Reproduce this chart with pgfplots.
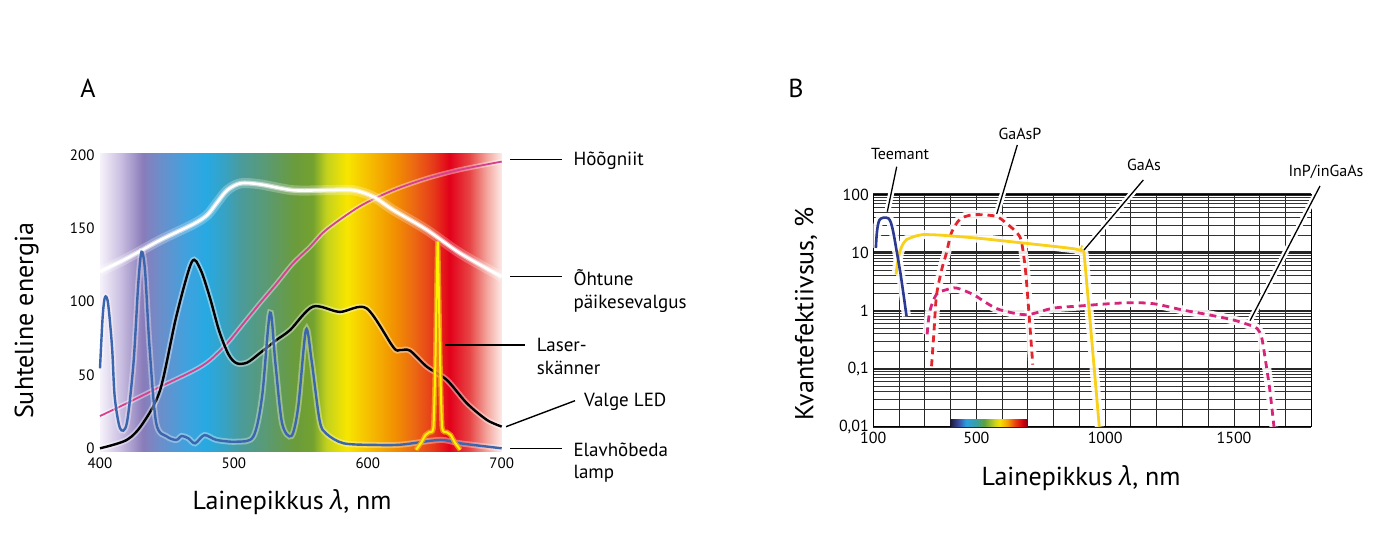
\documentclass[border=0pt]{standalone}
\usepackage{fontspec}
\setmainfont{PT Sans}
\newfontfamily\grfont{Open Sans}
\usepackage{pgfplots}
\usepackage{pgfplotstable}
\pgfplotsset{compat=1.18}

% spectrum colours, panel A background
\definecolor{sa00}{HTML}{F6F2FA}
\definecolor{sa01}{HTML}{CBC0E2}
\definecolor{sa02}{HTML}{8A7CBA}
\definecolor{sa03}{HTML}{6C8ECA}
\definecolor{sa04}{HTML}{3FA2DE}
\definecolor{sa05}{HTML}{27A9E1}
\definecolor{sa06}{HTML}{3AA1BE}
\definecolor{sa07}{HTML}{4A9B9B}
\definecolor{sa08}{HTML}{5B9A72}
\definecolor{sa09}{HTML}{6A9B3C}
\definecolor{sa10}{HTML}{74A22F}
\definecolor{sa11}{HTML}{C4D21E}
\definecolor{sa12}{HTML}{F7E600}
\definecolor{sa13}{HTML}{F6C200}
\definecolor{sa14}{HTML}{F29200}
\definecolor{sa15}{HTML}{EC6A12}
\definecolor{sa16}{HTML}{E63A1A}
\definecolor{sa17}{HTML}{E2001A}
\definecolor{sa18}{HTML}{E84545}
\definecolor{sa19}{HTML}{F4A8A0}
\definecolor{sa20}{HTML}{FDEAE6}
\pgfdeclarehorizontalshading{specA}{100bp}{
  color(0bp)=(sa00); color(25bp)=(sa00); color(27.5bp)=(sa01);
  color(30.3bp)=(sa02); color(32.5bp)=(sa03); color(35.8bp)=(sa04);
  color(38.3bp)=(sa05); color(40.8bp)=(sa06); color(42.5bp)=(sa07);
  color(45.8bp)=(sa08); color(49.2bp)=(sa09); color(51.5bp)=(sa10);
  color(53.2bp)=(sa11); color(55.7bp)=(sa12); color(58.2bp)=(sa13);
  color(61.5bp)=(sa14); color(64bp)=(sa15); color(66.5bp)=(sa16);
  color(68.5bp)=(sa17); color(71bp)=(sa18); color(73.2bp)=(sa19);
  color(75bp)=(sa20); color(100bp)=(sa20)}

% small spectrum bar, panel B
\definecolor{sb0}{HTML}{1B1B3A}
\definecolor{sb1}{HTML}{3A4AA0}
\definecolor{sb2}{HTML}{2AA0E0}
\definecolor{sb3}{HTML}{3A9FA0}
\definecolor{sb4}{HTML}{5AA040}
\definecolor{sb5}{HTML}{C8D020}
\definecolor{sb6}{HTML}{F8E000}
\definecolor{sb7}{HTML}{F5A000}
\definecolor{sb8}{HTML}{E84010}
\definecolor{sb9}{HTML}{D00010}
\definecolor{sb10}{HTML}{800010}
\pgfdeclarehorizontalshading{specB}{100bp}{
  color(0bp)=(sb0); color(25bp)=(sb0); color(30bp)=(sb1);
  color(35bp)=(sb2); color(41.7bp)=(sb3); color(46.7bp)=(sb4);
  color(53.3bp)=(sb5); color(56.7bp)=(sb6); color(61.7bp)=(sb7);
  color(66.7bp)=(sb8); color(71.7bp)=(sb9); color(75bp)=(sb10);
  color(100bp)=(sb10)}

\definecolor{magA}{HTML}{D6408F}
\definecolor{blueA}{HTML}{3B66AD}
\definecolor{laserY}{HTML}{FFF200}
\definecolor{laserO}{HTML}{F7A21B}
\definecolor{navyB}{HTML}{2B3990}
\definecolor{redB}{HTML}{E3262D}
\definecolor{magB}{HTML}{D6247A}
\definecolor{yelB}{HTML}{F9D11A}

% ---- panel A data ----
\pgfplotstableread{
x y
400 22
420 30.7
445 42
470 53
482 60
495 71.6
507 85
519.5 99
532 112.5
544 126
557 137.5
569 149
594 165
619 176
644 184
669 190
700 195.5
}\hoogniit

\pgfplotstableread{
x y
400 120.5
420 129.5
445 142
470 153
480 159
487 167
495 176
505 180.7
519.5 180
544 176
569 176
589 176
604 171.6
619 162.5
644 149
669 133
700 117
}\ohtune

\pgfplotstableread{
x y
400 0
420 5.7
432 17
445 40
457 90
468.5 127
475 122
482 103
489 80
496 64
502 58
510 58.5
519.5 65
532 74
542 80.7
559 96.6
579 93
599 95.5
619 69
624 67
631.5 66.6
644 55.7
659 46.6
674 30.7
689 19.3
700 14.8
}\valgeled

\pgfplotstableread{
x y
400 54.5
402 89.8
403.7 103
406 99
409 69
411 35
415 13.6
420 17
425 58
428.6 112.5
431 134
433.6 121.6
437 69
442 17
450 8
457 5.7
461 8.4
466 6.8
471 3.4
478 9
487 5.7
502 4.5
514.5 8
521 35
527 92.5
531 58
536 17
543 8.4
548 28
553.8 80.7
558 60
564 19
569 10
582 3.4
606 2.3
625 2.5
654 5.7
669 3.4
700 0
}\elavhobeda

\pgfplotstableread{
x y
636 -1
640 4
643 9
646 11
649 14
650.5 60
652.2 141
654 60
655.5 14
659 11
662 9
665 4
669 -1
}\laser

% ---- panel B data ----
\pgfplotstableread{
x y
110 12
113 20
118 30
125 37
140 40
158 39
168 33
178 22
190 11
205 4.5
218 1.8
229 0.8
}\teemant

\pgfplotstableread{
x y
188 4.2
195 7
203 10.4
215 14
229 16.7
260 19
294 20.4
358 20
500 17.8
616 15.7
800 12.8
880 11.6
905 10.8
918 9.5
977 0.01
}\gaas

\pgfplotstableread{
x y
326 0.11
335 0.4
345 1.77
365 5
384 9.9
403 21.8
435 37
475 44
513 45
577 42
616 32
668 19
685 8
694 3.4
706 0.7
719 0.117
}\gaasp

\pgfplotstableread{
x y
309 0.39
319 0.96
345 1.9
385 2.3
423 2.45
487 1.9
540 1.35
590 1.04
694 0.85
797 1.1
900 1.2
1000 1.3
1100 1.37
1190 1.31
1303 1.02
1400 0.85
1497 0.69
1562 0.56
1590 0.49
1607 0.35
1620 0.16
1639 0.043
1655 0.01
}\inp

\begin{document}
\begin{tikzpicture}[x=1pt,y=1pt]
\path[use as bounding box] (0,0) rectangle (1400,558);

% ================= panel A =================
\begin{axis}[
  at={(100pt,109.7pt)}, anchor=south west, scale only axis,
  width=401.7pt, height=293.3pt,
  xmin=400, xmax=700, ymin=0, ymax=200,
  clip=false,
  axis line style={draw=none},
  major tick length=0pt,
  xtick={400,500,600,700}, ytick={0,50,100,150,200},
  /pgf/number format/assume math mode=true,
  ticklabel style={font=\fontsize{15}{15}\selectfont},
  xticklabel style={yshift=-6pt},
  yticklabel style={xshift=-2pt},
]
\shade[shading=specA] (axis cs:400,-2) rectangle (axis cs:700,201);
% Hoogniit
\addplot[white, opacity=0.4, line width=5pt, smooth] table {\hoogniit};
\addplot[magA, line width=1.8pt, smooth] table {\hoogniit};
% evening sunlight
\addplot[white, opacity=0.25, line width=10pt, smooth] table {\ohtune};
\addplot[white, opacity=0.5, line width=5pt, smooth] table {\ohtune};
\addplot[white, line width=2.6pt, smooth] table {\ohtune};
% white LED
\addplot[white, opacity=0.4, line width=6pt, smooth] table {\valgeled};
\addplot[black, line width=2.4pt, smooth] table {\valgeled};
% mercury lamp
\addplot[white, opacity=0.35, line width=6pt, smooth] table {\elavhobeda};
\addplot[blueA, line width=2.4pt, smooth] table {\elavhobeda};
% laser scanner
\addplot[laserO, opacity=0.8, line width=5pt, smooth, tension=0.3] table {\laser};
\addplot[laserY, line width=2pt, smooth, tension=0.3] table {\laser};
\end{axis}

% leader lines and labels A
\draw[line width=1.4pt] (510,398.7) -- (561.7,398.7);
\draw[line width=1.4pt] (510,281.3) -- (561.7,281.3);
\draw[line width=1.4pt] (445,213) -- (525,213);
\draw[line width=1.4pt] (506,131.3) -- (575,157.3);
\draw[line width=1.4pt] (510,109.7) -- (561.7,109.7);
\begin{scope}[every node/.style={font=\fontsize{19}{23}\selectfont, inner sep=0pt, anchor=base west}]
\node at (573.3,392) {Hõõgniit};
\node at (573.3,273) {Õhtune};
\node at (573.3,250) {päikesevalgus};
\node at (536.7,206.5) {Laser-};
\node at (536.7,184) {skänner};
\node at (584,152) {Valge LED};
\node at (573.3,101.5) {Elavhõbeda};
\node at (573.3,80) {lamp};
\end{scope}
\node[font=\fontsize{26}{30}\selectfont, rotate=90] at (26.7,237.2) {Suhteline energia};
\node[font=\fontsize{26}{30}\selectfont] at (292,56) {Lainepikkus {\grfont\itshape λ}, nm};
\node[font=\fontsize{26}{30}\selectfont] at (88,470) {A};

% ================= panel B =================
\begin{axis}[
  at={(873.3pt,131.3pt)}, anchor=south west, scale only axis,
  width=438pt, height=232.2pt,
  ymode=log,
  xmin=100, xmax=1800, ymin=0.01, ymax=100,
  axis line style={black, line width=1.3pt},
  major tick length=0pt, minor tick length=0pt,
  xtick={100,500,1000,1500},
  xticklabels={100,500,1000,1500},
  minor xtick={200,300,400,600,700,800,900,1100,1200,1300,1400,1600,1700,1800},
  ytick={0.01,0.1,1,10,100},
  yticklabels={{0,01},{0,1},1,10,100},
  minor ytick={0.02,0.03,0.04,0.05,0.06,0.07,0.08,0.09,
               0.2,0.3,0.4,0.5,0.6,0.7,0.8,0.9,
               2,3,4,5,6,7,8,9,20,30,40,50,60,70,80,90},
  grid=both,
  major x grid style={black!85, line width=1pt},
  minor x grid style={black!85, line width=1pt},
  major y grid style={black!85, line width=2.2pt},
  minor y grid style={black!80, line width=0.7pt},
  /pgf/number format/assume math mode=true,
  ticklabel style={font=\fontsize{16}{16}\selectfont},
  xticklabel style={yshift=-2pt},
  yticklabel style={xshift=-1pt},
]
\shade[shading=specB] (axis cs:400,0.01) rectangle (axis cs:700,0.0134);
% halos
\addplot[white, line width=9pt, opacity=0.9, smooth] table {\inp};
\addplot[white, line width=9pt, opacity=0.9, smooth] table {\gaasp};
\addplot[white, line width=9pt, opacity=0.9] table {\gaas};
\addplot[white, line width=9pt, opacity=0.9, smooth] table {\teemant};
% curves
\addplot[magB, line width=2.8pt, dash pattern=on 7pt off 5pt, smooth] table {\inp};
\addplot[redB, line width=2.8pt, dash pattern=on 7pt off 5pt, smooth] table {\gaasp};
\addplot[yelB, line width=2.8pt, smooth, tension=0.3] table {\gaas};
\addplot[navyB, line width=2.6pt, smooth] table {\teemant};
\end{axis}

% leader lines and labels B
\foreach \a/\b in {{(896.7,391.3)}/{(887.3,346.3)},{(1017.3,413)}/{(996.7,344)},
                   {(1143.3,378)}/{(1084,308)},{(1320,372)}/{(1250,237.3)}}{
  \draw[white, line width=6pt] \a -- \b;
  \draw[black, line width=1.3pt] \a -- \b;
}
\begin{scope}[every node/.style={font=\fontsize{16}{19}\selectfont, inner sep=0pt}]
\node at (900,404) {Teemant};
\node at (1020,424) {GaAsP};
\node at (1144,393) {GaAs};
\node at (1326,386.3) {InP/inGaAs};
\end{scope}
\node[font=\fontsize{26}{30}\selectfont, rotate=90] at (806,244) {Kvantefektiivsus, \%};
\node[font=\fontsize{26}{30}\selectfont] at (1081,80) {Lainepikkus {\grfont\itshape λ}, nm};
\node[font=\fontsize{26}{30}\selectfont] at (796,470) {B};
\end{tikzpicture}
\end{document}
